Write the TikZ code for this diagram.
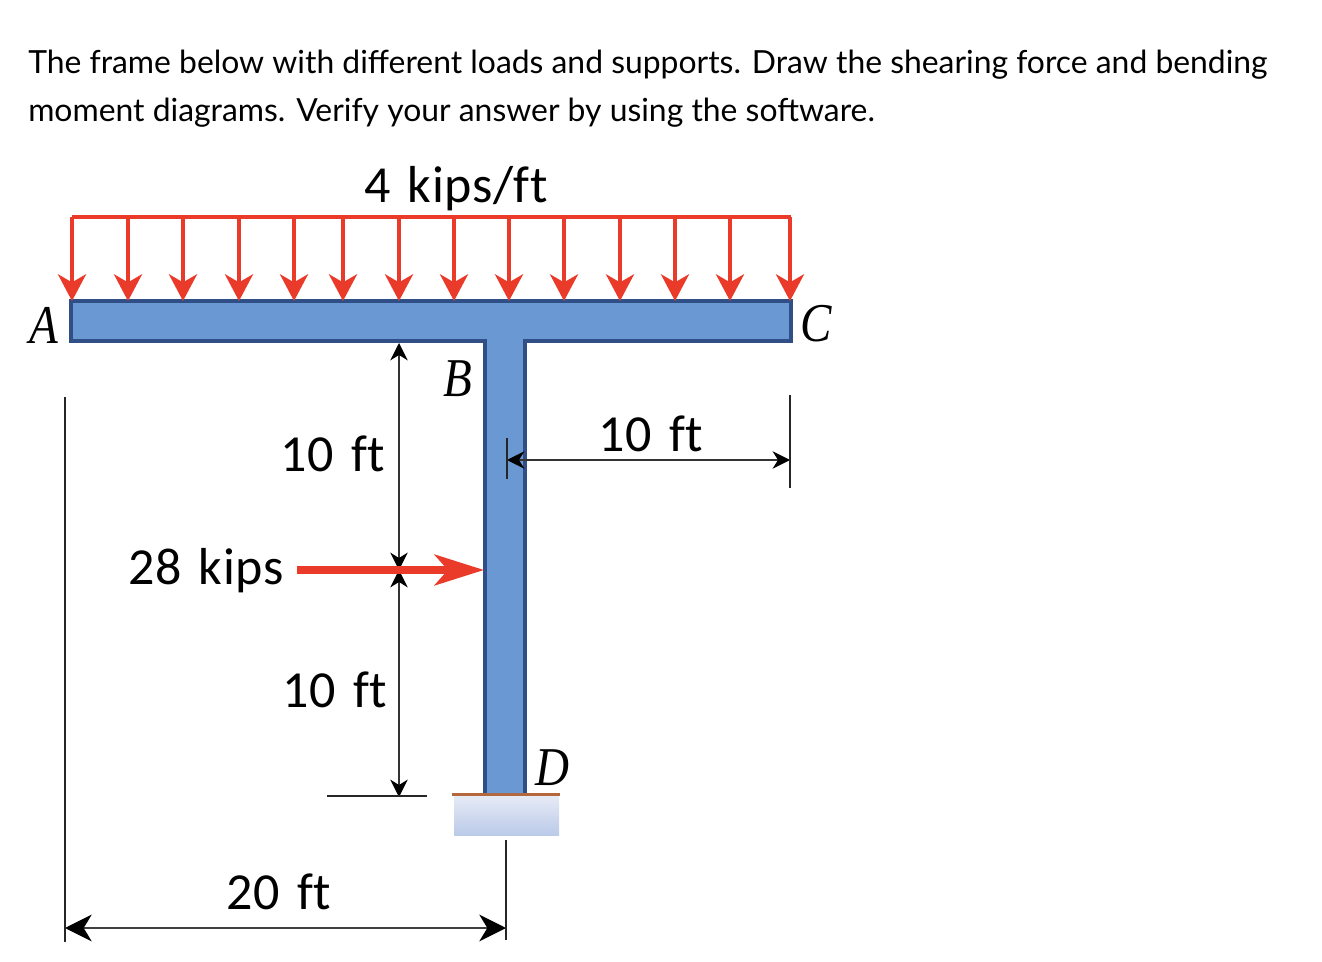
\documentclass[tikz,border=0pt]{standalone}
\usepackage{fontspec}
\setmainfont{Lato}
\newfontfamily\dimfont[Ligatures=NoCommon,LetterSpace=1.2,WordSpace=1.4]{Carlito}
\newfontfamily\markfont[FakeStretch=0.86]{Liberation Serif}
\usepackage{tikz}
\usetikzlibrary{arrows.meta}
\definecolor{loadred}{HTML}{EA3A2A}
\definecolor{framefill}{HTML}{6A98D2}
\definecolor{frameedge}{HTML}{2F4F86}
\definecolor{basebrown}{HTML}{B5673C}
\definecolor{basetop}{HTML}{E6EAF6}
\definecolor{basebottom}{HTML}{BACAE8}
\tikzset{%
  prompt/.style={%
    anchor=base west,%
    inner sep=0pt,%
    font=\fontsize{23.9}{28}\selectfont},
  dimlabel/.style={%
    inner sep=0pt,%
    font=\dimfont\fontsize{39}{44}\selectfont},
  pointmark/.style={%
    inner sep=0pt,%
    font=\markfont\itshape\fontsize{41}{44}\selectfont},
  dimline/.style={%
    draw=black!80,%
    line width=1.4pt,%
    {Stealth[length=13pt,width=13pt,inset=4pt,color=black]}-{Stealth[length=13pt,width=13pt,inset=4pt,color=black]}},
  longdim/.style={%
    draw=black!75,%
    line width=2pt,%
    {Stealth[length=20pt,width=20pt,inset=6pt,color=black]}-{Stealth[length=20pt,width=20pt,inset=6pt,color=black]}},
  tickline/.style={%
    draw=black!85,%
    line width=2.2pt},
  loadline/.style={%
    draw=loadred,%
    line width=3pt,%
    -{Stealth[length=20pt,width=21pt,inset=6pt]}}
}

\begin{document}
\begin{tikzpicture}[x=0.75pt,y=-0.75pt]
  \useasboundingbox (0,0) rectangle (1322,962);
  % question text
  \node [prompt] (line1) at (28,74) {The frame below with different loads and supports. Draw the shearing force and bending};
  \node [prompt] (line2) at (28,122) {moment diagrams. Verify your answer by using the software.};
  % support under the column
  \fill [top color=basetop, bottom color=basebottom] (454,796) rectangle (559,835);
  \draw [basebrown,line width=2.2pt] (452,794.5) -- (560,794.5);
  % frame
  \fill [framefill]
    (71,301) -- (791,301) -- (791,341) -- (525,341) -- (525,793) -- (485,793) -- (485,341) -- (71,341) -- cycle;
  \draw [frameedge,line width=2.4pt,line join=miter]
    (485,793) -- (485,341) -- (71,341) -- (71,301) -- (791,301) -- (791,341) -- (525,341) -- (525,793);
  % distributed load
  \coordinate (loadA) at (72,217);
  \coordinate (loadC) at (791,217);
  \draw [loadred,line width=3pt] (loadA) -- (loadC);
  \foreach \x in {72,128,183,239,294,343,399,454,509,564,620,675,730,790}
    \draw [loadline] (\x,217) -- (\x,301);
  % point load
  \node [dimlabel] (pointload) at (206,571) {28 kips};
  \coordinate (pointstart) at (297,570);
  \coordinate (pointtip) at (484,570);
  % dimensions
  \coordinate (topB) at (399,343);
  \coordinate (midB) at (399,570);
  \coordinate (endD) at (399,797);
  \coordinate (colmid) at (507,460);
  \coordinate (endC) at (790,460);
  \coordinate (endA) at (65,928);
  \coordinate (endcol) at (506,928);
  \draw [dimline] (topB) -- (midB);
  \draw [dimline] (midB) -- (endD);
  \draw [dimline] (colmid) -- (endC);
  \draw [longdim] (endA) -- (endcol);
  \draw [tickline] (327,796) -- (427,796);
  \draw [tickline] (507,438) -- (507,479);
  \draw [tickline] (790,395) -- (790,488);
  \draw [tickline] (65,397) -- (65,942);
  \draw [tickline] (506,840) -- (506,940);
  \draw [loadred,line width=5.8pt,-{Stealth[length=37pt,width=23pt,inset=10pt]}] (pointstart) -- (pointtip);
  % labels
  \node [dimlabel] (wload) at (456,189) {4 kips/ft};
  \node [dimlabel] (dimAB) at (333,454) {10 ft};
  \node [dimlabel] (dimBD) at (335,690) {10 ft};
  \node [dimlabel] (dimAD) at (279,892) {20 ft};
  \node [dimlabel] (dimBC) at (651,434) {10 ft};
  \node [pointmark] (markA) at (44,325) {A};
  \node [pointmark] (markB) at (458,379) {B};
  \node [pointmark] (markC) at (816,324) {C};
  \node [pointmark] (markD) at (552,768) {D};
\end{tikzpicture}
\end{document}
